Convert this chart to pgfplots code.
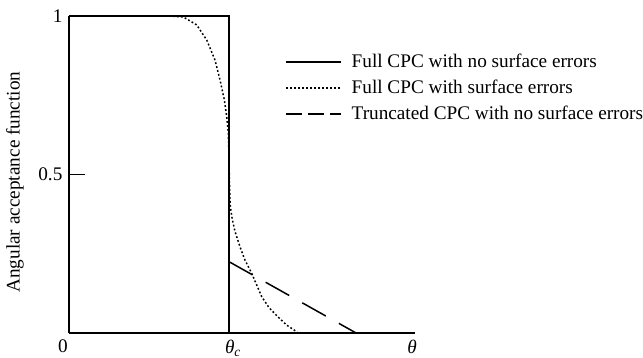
\documentclass[border=0pt]{standalone}
\usepackage{fontspec}
\setmainfont{Liberation Serif}
\usepackage{pgfplots}
\pgfplotsset{compat=1.18}
\newcommand{\cf}{\fontsize{19.3}{23}\selectfont}
\begin{document}
\cf
\begin{tikzpicture}
\path[use as bounding box] (-69bp,-25bp) rectangle (574bp,333bp);
\begin{axis}[
  at={(0,0)}, anchor=south west,
  scale only axis, width=346bp, height=317bp,
  xmin=0, xmax=2.1625, ymin=0, ymax=1,
  axis x line=bottom, axis y line=left,
  axis line style={-, line width=1.3bp},
  clip=false,
  xtick={0,1,2.1625},
  xticklabels={\makebox[0pt]{0\hspace{12bp}}, \makebox[0pt]{\hspace{8bp}\textit{θ}\textsubscript{\textit{c}}}, \makebox[0pt]{\textit{θ}\hspace{6bp}}},
  ytick={0.5,1}, yticklabels={0.5,1},
  xtick style={draw=none},
  ytick style={line width=1.3bp, black},
  tick align=inside, major tick length=16bp,
  /pgf/number format/assume math mode=true,
  tick label style={font=\cf},
  ylabel={Angular acceptance function},
  ylabel style={at={(axis description cs:-0.1114,0.476)}, anchor=south, font=\cf},
  legend style={draw=none, fill=none, at={(axis description cs:0.6243,0.773)}, anchor=west,
    inner sep=0pt, row sep=9.5bp, column sep=10bp, font=\cf, cells={anchor=west},
    nodes={inner sep=0pt}},
  legend image code/.code={\draw[#1] (0bp,0bp) -- (55bp,0bp);},
]
\addplot[black, line width=1.3bp] coordinates {(0,1) (1,1) (1,0)};
\addlegendentry{Full CPC with no surface errors}
\addplot[black, line width=1.5bp, dash pattern=on 1.8bp off 2.2bp] coordinates {
(0.55,1) (0.619,1) (0.714,0.997) (0.798,0.972) (0.861,0.924) (0.9125,0.861)
(0.944,0.798) (0.971,0.735) (0.986,0.682) (0.996,0.63) (1.0,0.55) (1.002,0.5)
(1.004,0.45) (1.008,0.40) (1.02,0.36) (1.0375,0.32) (1.07,0.27) (1.10,0.23)
(1.142,0.188) (1.204,0.115) (1.25,0.08) (1.306,0.051) (1.36,0.025) (1.423,0.004) (1.43,0)};
\addlegendentry{Full CPC with surface errors}
\addplot[black, line width=1.5bp, dash pattern=on 27bp off 15bp,
  legend image post style={dash pattern=on 16bp off 6bp}] coordinates {(1,0.225) (1.794,0)};
\addlegendentry{Truncated CPC with no surface errors}
\end{axis}
\end{tikzpicture}
\end{document}
